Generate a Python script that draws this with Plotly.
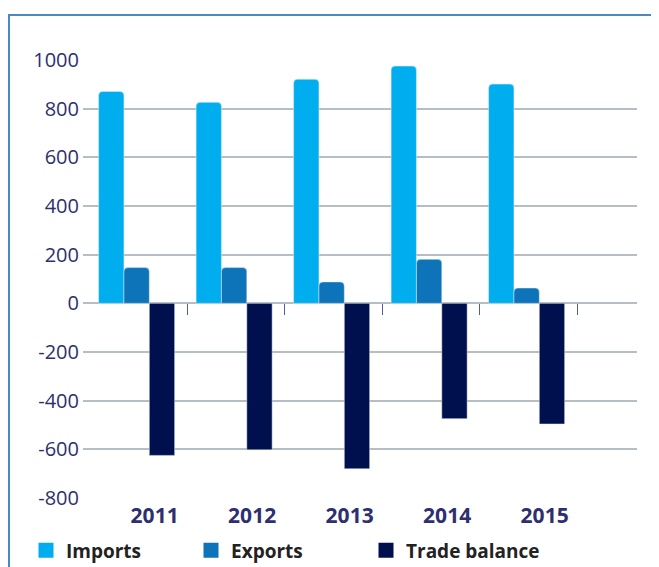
import plotly.graph_objects as go

years = ["2011", "2012", "2013", "2014", "2015"]
imports = [871, 826, 921, 975, 901]
exports = [147, 147, 88, 181, 63]
trade_balance = [-625, -602, -680, -474, -496]
y_ticks = [1000, 800, 600, 400, 200, 0, -200, -400, -600, -800]
y_tick_text = ["1000", "800", "600", "400", "200", "0", "-200", "-400", "-600", "-800"]
series_names = ["Imports", "Exports", "Trade balance"]
series_colors = ["#00aeef", "#0d74ba", "#00104f"]

# the page body has an 8px default margin, so the figure is laid out 8px smaller
OFF = 8
W, H = 659 - OFF, 567 - OFF
ML, MR, MT, MB = 83 - OFF, 22, 60 - OFF, 69
PW, PH = W - ML - MR, H - MT - MB

def px_x(p):
    return (p - OFF - ML) / PW

def px_y(p):
    return (H - MB - (p - OFF)) / PH

navy = "#2e2f6e"
fig = go.Figure()
for vals, name, col, rad in zip([imports, exports, trade_balance], series_names, series_colors, [4, 4, 0]):
    fig.add_trace(go.Bar(x=years, y=vals, name=name, marker=dict(color=col, cornerradius=rad),
                         showlegend=False))
# legend entries (square swatches)
for i, (name, col) in enumerate(zip(series_names, series_colors)):
    fig.add_trace(go.Scatter(x=[None], y=[None], xaxis="x2", mode="markers", name=name,
                             marker=dict(symbol="square", size=15, color=col),
                             legend=["legend", "legend2", "legend3"][i], hoverinfo="skip"))
# helper trace so the zero-line tick axis exists
fig.add_trace(go.Scatter(x=[0], y=[0], xaxis="x2", mode="markers", marker=dict(opacity=0),
                         showlegend=False, hoverinfo="skip"))

lf = dict(family="Open Sans", size=19, color="#222222", weight="bold")
ly = px_y(550.5)
fig.update_layout(
    width=W, height=H,
    margin=dict(l=ML, r=MR, t=MT, b=MB, autoexpand=False),
    paper_bgcolor="white", plot_bgcolor="white",
    barmode="group", bargap=0.22, bargroupgap=0,
    font=dict(family="Open Sans", color=navy),
    legend=dict(x=px_x(26), y=ly, xanchor="left", yanchor="middle", font=lf, bgcolor="rgba(0,0,0,0)"),
    legend2=dict(x=px_x(191), y=ly, xanchor="left", yanchor="middle", font=lf, bgcolor="rgba(0,0,0,0)"),
    legend3=dict(x=px_x(366), y=ly, xanchor="left", yanchor="middle", font=lf, bgcolor="rgba(0,0,0,0)"),
    xaxis=dict(type="category", range=[-0.55, 5.132], showgrid=False, showline=False, zeroline=False,
               automargin=False, ticks="",
               tickfont=dict(family="Open Sans", size=21, color=navy, weight="bold"),
               ticklabelshift=18, ticklabelstandoff=3),
    xaxis2=dict(overlaying="x", anchor="free", position=800 / 1800, side="bottom",
                range=[-0.567, 5.115], tickvals=[0.5, 1.5, 2.5, 3.5, 4.5], ticks="outside",
                ticklen=11, tickwidth=1.3, tickcolor="#4d5cb0", showticklabels=False,
                showgrid=False, showline=False, zeroline=False, automargin=False),
    yaxis=dict(range=[-800, 1000], tickvals=y_ticks, ticktext=y_tick_text, ticks="", showline=False,
               automargin=False,
               gridcolor="#b7bec3", gridwidth=1.5, zeroline=True, zerolinecolor="#b7bec3",
               zerolinewidth=1.5, tickfont=dict(family="Open Sans", size=20, color=navy),
               ticklabelstandoff=3),
    shapes=[dict(type="rect", xref="paper", yref="paper", x0=px_x(9), x1=px_x(700),
                 y0=px_y(620), y1=px_y(15), line=dict(color="#4a89c2", width=2), layer="below")],
)
fig.write_html("out.html")
